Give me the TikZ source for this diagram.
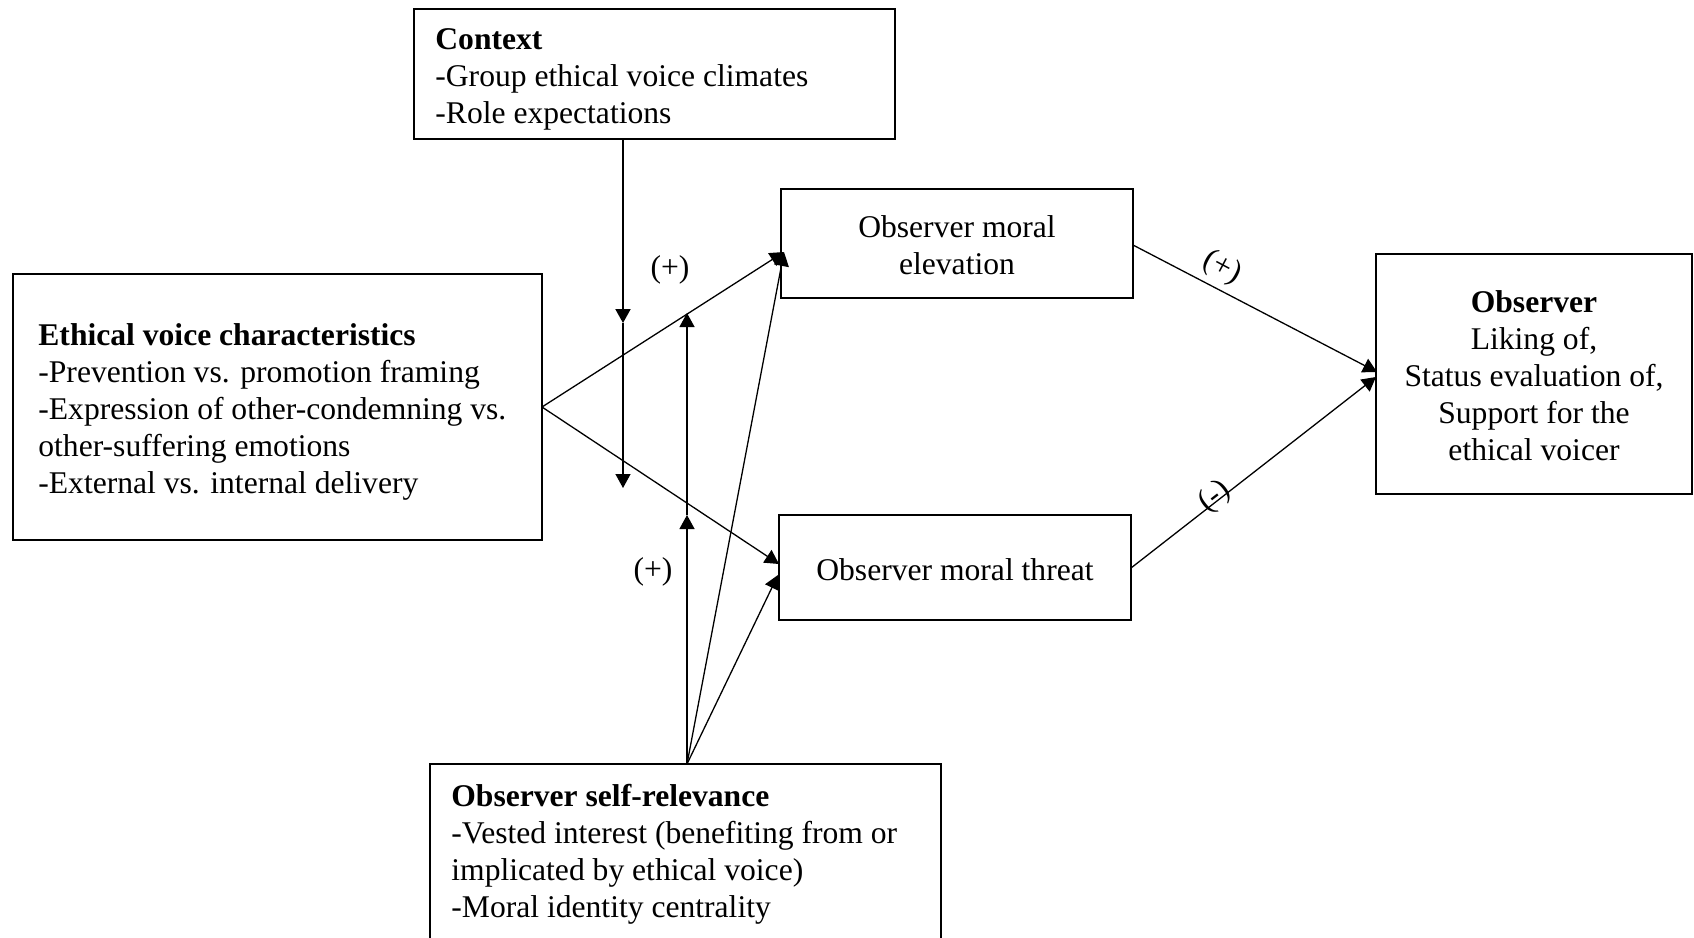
\documentclass[tikz,border=0pt]{standalone}
\usepackage{fontspec}
\setmainfont{Liberation Serif}
\usetikzlibrary{arrows.meta,fit}
\begin{document}
\begin{tikzpicture}[x=0.5pt,y=-0.5pt,
  box/.style={draw, line width=1.2pt, inner sep=0pt},
  txt/.style={inner sep=0pt, align=left, font=\fontsize{15.8}{18.5}\selectfont},
  ctxt/.style={inner sep=0pt, align=center, font=\fontsize{15.8}{18.5}\selectfont},
  arr/.style={line width=0.65pt, -{Triangle[length=7pt,width=7.5pt]}},
  lbl/.style={inner sep=0pt, font=\fontsize{15.8}{18}\selectfont}]
\useasboundingbox (0,0) rectangle (1694,938);
\clip (0,0) rectangle (1694,938);

% boxes
\node[box, fit={(414,9) (895,139)}] (ctx) {};
\node[box, fit={(13,274) (542,540)}] (eth) {};
\node[box, fit={(781,189) (1133,298)}] (elv) {};
\node[box, fit={(779,515) (1131,620)}] (thr) {};
\node[box, fit={(1376,254) (1692,494)}] (obs) {};
\node[box, fit={(430,764) (941,960)}] (srl) {};

% texts
\node[txt, anchor=west] (ctxtext) at (435,79) {\textbf{Context}\\-Group ethical voice climates\\-Role expectations};
\node[txt, anchor=west] (ethtext) at (38,412) {\textbf{Ethical voice characteristics}\\-Prevention vs. promotion framing\\-Expression of other-condemning vs.\\other-suffering emotions\\-External vs. internal delivery};
\node[ctxt] (elvtext) at ([yshift=-1pt]elv.center) {Observer moral\\elevation};
\node[ctxt] (thrtext) at ([yshift=-1pt]thr.center) {Observer moral threat};
\node[ctxt] (obstext) at (1534,376) {\textbf{Observer}\\Liking of,\\Status evaluation of,\\Support for the\\ethical voicer};
\node[txt, anchor=west] (srltext) at (451,854) {\textbf{Observer self-relevance}\\-Vested interest (benefiting from or\\implicated by ethical voice)\\-Moral identity centrality};

% coordinates
\coordinate (cx1) at (623,323);
\coordinate (cx2) at (623,488);
\coordinate (su1) at (687,515);
\coordinate (su2) at (687,313);
\coordinate (srtop) at (687,764);
\coordinate (ethout) at (542,407);
\coordinate (elvin) at (784,252);
\coordinate (thrin1) at (779,564);
\coordinate (thrin2) at (778,575);
\coordinate (elvout) at (1133,245);
\coordinate (throut) at (1131,568);
\coordinate (obsin1) at (1377,372);
\coordinate (obsin2) at (1376,377);

% connectors
\draw[arr, line width=1pt] (ctx.south -| cx1) -- (cx1);
\draw[arr] (cx1) -- (cx2);
\draw[arr] (srtop) -- (su1);
\draw[arr] (su1) -- (su2);
\draw[arr] (ethout) -- (elvin);
\draw[arr] (ethout) -- (thrin1);
\draw[arr] (srtop) -- (elvin);
\draw[arr] (srtop) -- (thrin2);
\draw[arr] (elvout) -- (obsin1);
\draw[arr] (throut) -- (obsin2);

% labels
\node[lbl] (l1) at (670,270) {(+)};
\node[lbl] (l2) at (653,572) {(+)};
\node[lbl, rotate=-28] (l3) at (1222,268) {(+)};
\node[lbl, rotate=38] (l4) at (1215,497) {(-)};
\end{tikzpicture}
\end{document}
